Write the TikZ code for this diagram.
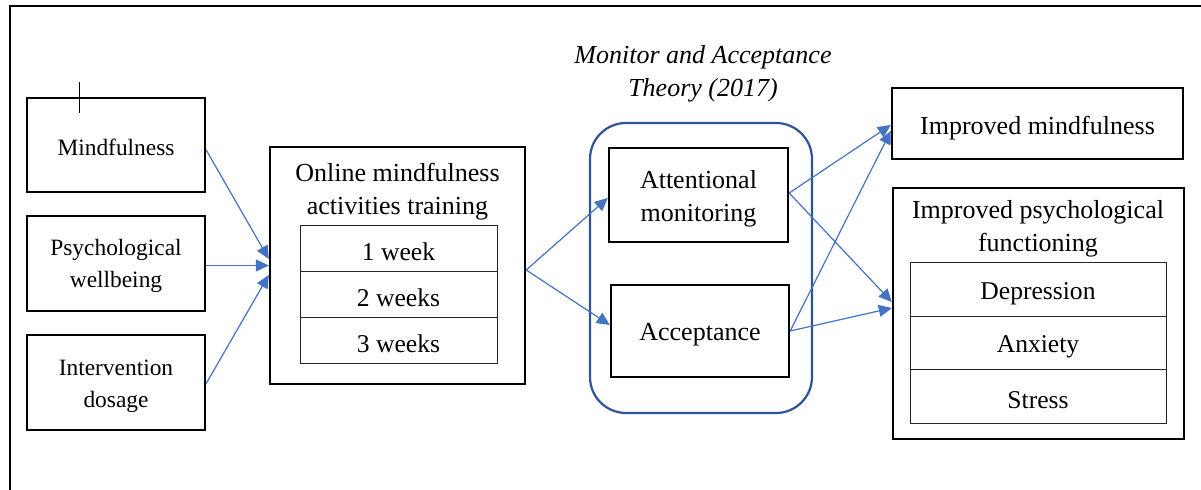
\documentclass[tikz,border=0pt]{standalone}
\usepackage{fontspec}
\setmainfont{Liberation Serif}
\usetikzlibrary{arrows.meta}
\definecolor{arrowblue}{HTML}{4472C4}
\definecolor{frameblue}{HTML}{2F5597}
\begin{document}
\begin{tikzpicture}[x=0.5pt,y=-0.5pt,
  box/.style={draw=black,line width=1.2pt,rectangle,inner sep=0pt},
  cell/.style={draw=black!85,line width=0.5pt,rectangle,inner sep=0pt},
  txt/.style={align=center,inner sep=0pt,font=\fontsize{13pt}{16.5pt}\selectfont},
  stxt/.style={align=center,inner sep=0pt,font=\fontsize{11.7pt}{15.8pt}\selectfont},
  ctxt/.style={align=center,inner sep=0pt,font=\fontsize{12.8pt}{15pt}\selectfont},
  conn/.style={draw=arrowblue,line width=0.6pt,-{Triangle[length=6.5pt,width=6pt]}}]
\useasboundingbox (0,0) rectangle (1201,490);
\fill[white] (0,0) rectangle (1201,490);
% outer frame
\draw[line width=1pt] (10,490) -- (10,6) -- (1201,6);
% left boxes
\node[box,minimum width=89pt,minimum height=47pt] (mind) at (116,145) {};
\node[stxt] (mindt) at (116,147) {Mindfulness};
\node[box,minimum width=89pt,minimum height=47.5pt] (psy) at (116,263.5) {};
\node[stxt] (psyt) at (116,266) {Psychological\\wellbeing};
\node[box,minimum width=89pt,minimum height=47.5pt] (dose) at (116,382.5) {};
\node[stxt] (doset) at (116,386) {Intervention\\dosage};
\coordinate (cura) at (79,82);
\coordinate (curb) at (79,113);
\draw[line width=0.5pt] (cura) -- (curb);
% online training
\node[box,minimum width=127.5pt,minimum height=118.5pt] (online) at (397.5,265.5) {};
\node[txt] (onlinet) at (397.5,192) {Online mindfulness\\activities training};
\node[cell,minimum width=98.5pt,minimum height=23pt] (w1) at (398.5,249) {};
\node[cell,minimum width=98.5pt,minimum height=23pt] (w2) at (398.5,295) {};
\node[cell,minimum width=98.5pt,minimum height=23pt] (w3) at (398.5,341) {};
\node[ctxt] (w1t) at (398.5,252) {1 week};
\node[ctxt] (w2t) at (398.5,298) {2 weeks};
\node[ctxt] (w3t) at (398.5,344) {3 weeks};
% theory container
\node[txt,font=\itshape\fontsize{13pt}{16.5pt}\selectfont] (theory) at (703,74) {Monitor and Acceptance\\Theory (2017)};
\node[draw=frameblue,line width=1.1pt,rounded corners=18pt,minimum width=111pt,minimum height=145pt] (cont) at (701,268) {};
\node[box,minimum width=89.5pt,minimum height=47pt] (att) at (698.5,195) {};
\node[txt] (attt) at (698.5,199) {Attentional\\monitoring};
\node[box,minimum width=89pt,minimum height=46pt] (acc) at (700,331) {};
\node[txt] (acct) at (700,335) {Acceptance};
% outcomes
\node[box,minimum width=145.5pt,minimum height=35.5pt] (im) at (1037.5,123.5) {};
\node[txt] (imt) at (1037.5,128) {Improved mindfulness};
\node[box,minimum width=145.5pt,minimum height=125.5pt] (ipf) at (1038.5,313.5) {};
\node[txt] (ipft) at (1038,229) {Improved psychological\\functioning};
\node[cell,minimum width=128pt,minimum height=26.7pt] (dep) at (1038,289.7) {};
\node[cell,minimum width=128pt,minimum height=26.7pt] (anx) at (1038,343.1) {};
\node[cell,minimum width=128pt,minimum height=26.7pt] (str) at (1038,396.5) {};
\node[ctxt] (dept) at (1038,293.5) {Depression};
\node[ctxt] (anxt) at (1038,346.5) {Anxiety};
\node[ctxt] (strt) at (1038,400) {Stress};
% connectors
\draw[conn] ([yshift=-2.5pt]mind.east) -- ([yshift=3.25pt]online.west);
\draw[conn] ([yshift=-1pt]psy.east) -- ([yshift=-1pt]psy.east -| online.west);
\draw[conn] ([yshift=-0.5pt]dose.east) -- ([yshift=-4.75pt]online.west);
\draw[conn] ([yshift=-2.25pt]online.east) -- ([yshift=-1.5pt]att.west);
\draw[conn] ([yshift=-2.25pt]online.east) -- ([yshift=3pt]acc.west);
\draw[conn] ([yshift=1pt]att.east) -- ([yshift=-0.75pt]im.west);
\draw[conn] ([yshift=1pt]att.east) -- ([yshift=5.75pt]ipf.west);
\draw[conn] (acc.east) -- ([yshift=-3.75pt]im.west);
\draw[conn] (acc.east) -- ([yshift=2.75pt]ipf.west);
\end{tikzpicture}
\end{document}
